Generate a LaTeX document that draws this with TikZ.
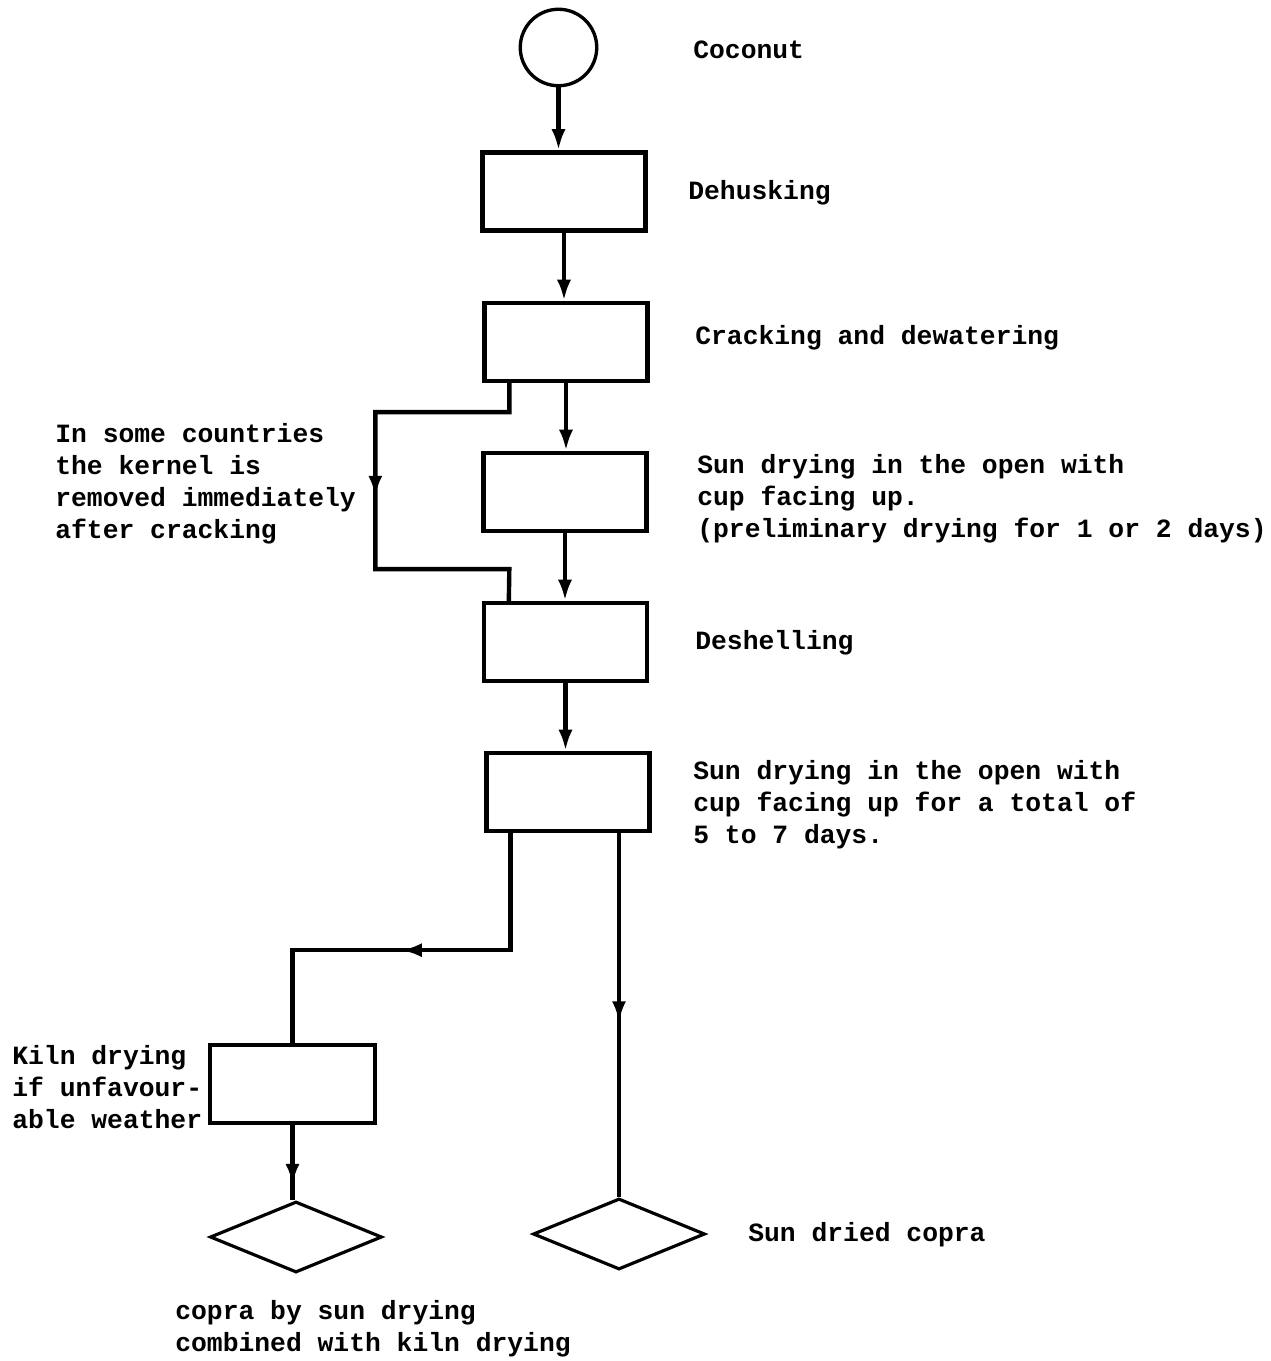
\documentclass[tikz,border=0pt]{standalone}
\usepackage{fontspec}
\setmainfont{Liberation Mono}
\usetikzlibrary{arrows.meta,shapes.geometric,decorations.markings,calc}

\begin{document}
\begin{tikzpicture}[x=0.02cm,y=-0.02cm,
  every node/.style={inner sep=0pt},
  proc/.style={draw, line width=2.5pt, rectangle, minimum width=3.26cm, minimum height=1.56cm},
  term/.style={draw, line width=1.9pt, circle, minimum size=1.53cm},
  prod/.style={draw, line width=1.8pt, diamond, minimum width=3.44cm, minimum height=1.42cm},
  lbl/.style={font=\fontsize{15}{18.2}\selectfont\bfseries, align=left, anchor=base west},
  head/.tip={Latex[length=12pt,width=8pt]},
  flow/.style={line width=2.5pt, -head},
  wire/.style={line width=2.5pt},
  midtip/.style={postaction={decorate},
    decoration={markings, mark=at position #1 with {\arrow{head}}}},
]
\useasboundingbox (0,0) rectangle (1270,1361);

% process chain
\node[term] (coco) at (558.5,47.5) {};
\node[proc] (b1) at (564,191.5) {};
\node[proc] (b2) at (566,342) {};
\node[proc] (b3) at (565,492) {};
\node[proc] (b4) at (565.5,642) {};
\node[proc] (b5) at (568,792) {};
\node[proc, minimum width=3.3cm] (kiln) at (292.5,1084) {};
\node[prod] (ld) at (296,1237) {};
\node[prod] (rd) at (619,1234) {};

% main flow
\draw[flow] (coco.south) -- (coco.south |- b1.north);
\draw[flow] (b1.south) -- (b1.south |- b2.north);
\draw[flow] (b2.south) -- (b2.south |- b3.north);
\draw[flow] (b3.south) -- (b3.south |- b4.north);
\draw[flow] (b4.south) -- (b4.south |- b5.north);

% bypass of preliminary drying
\draw[wire, midtip=0.51] ($(b2.south west)+(27,0)$) -- ++(0,29) -- ++(-134,0)
  -- ++(0,157) -- ++(134,0) -- ($(b4.north west)+(27,0)$);

% kiln branch
\draw[wire, midtip=0.53] ($(b5.south west)+(26,0)$) -- ++(0,117) -| (kiln.north);
\draw[wire, midtip=0.8] (kiln.south) -- (kiln.south |- ld.north);

% sun drying branch
\draw[wire, midtip=0.52] (b5.south -| rd.north) -- (rd.north);

% labels (multi-line blocks are placed by their last baseline)
\node[lbl] (tcoco) at (693,59) {Coconut};
\node[lbl] (tdehusk) at (688,200) {Dehusking};
\node[lbl] (tcrack) at (695,345) {Cracking and dewatering};
\node[lbl] (tsun1) at (697,537) {Sun drying in the open with\\cup facing up.\\(preliminary drying for 1 or 2 days)};
\node[lbl] (tdeshell) at (695,649) {Deshelling};
\node[lbl] (tsun2) at (693,843) {Sun drying in the open with\\cup facing up for a total of\\5 to 7 days.};
\node[lbl] (tnote) at (55,538) {In some countries\\the kernel is\\removed immediately\\after cracking};
\node[lbl] (tkiln) at (12,1128) {Kiln drying\\if unfavour-\\able weather};
\node[lbl] (tsdc) at (748,1241) {Sun dried copra};
\node[lbl] (tkc) at (175,1351) {copra by sun drying\\combined with kiln drying};
\end{tikzpicture}
\end{document}
